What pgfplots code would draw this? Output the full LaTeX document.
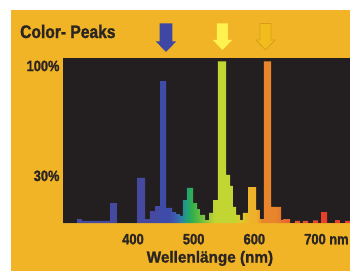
\documentclass[border=0pt]{standalone}
\usepackage{fontspec}
\usepackage{pgfplots}
\usepackage{pgfplotstable}
\pgfplotsset{compat=1.18}
\newfontfamily\condfont{Liberation Sans}[FakeStretch=0.86, BoldFeatures={FakeBold=1.4}]
\newfontfamily\labfont{Liberation Sans}[FakeStretch=0.96, BoldFeatures={FakeBold=1.4}]
\definecolor{bgor}{HTML}{F1B427}
\definecolor{plotbg}{HTML}{231F20}
\definecolor{txt}{HTML}{2A2522}
\definecolor{cv}{HTML}{4549A0}
\definecolor{cb}{HTML}{3F4BA8}
\definecolor{ca}{HTML}{3D5DB0}
\definecolor{cc}{HTML}{2E7FA8}
\definecolor{cd}{HTML}{22A07A}
\definecolor{cg}{HTML}{32B04A}
\definecolor{ce}{HTML}{6CBE40}
\definecolor{cf}{HTML}{A4CB38}
\definecolor{cyg}{HTML}{C2D633}
\definecolor{ch}{HTML}{DCCB2C}
\definecolor{cyo}{HTML}{EDB12A}
\definecolor{co}{HTML}{E9862B}
\definecolor{cor}{HTML}{E66A2E}
\definecolor{crr}{HTML}{E5512F}
\definecolor{cr}{HTML}{E63F2B}
\definecolor{arrblue}{HTML}{3E47A3}
\definecolor{arryel}{HTML}{FFF24F}
\definecolor{arrora}{HTML}{F2BC1C}
\definecolor{arroradraw}{HTML}{D99E18}
\pgfdeclarehorizontalshading{spectrum}{100bp}{color(0bp)=(cv); color(25bp)=(cv); color(41.2bp)=(cv); color(42.0bp)=(cb); color(43.5bp)=(cb); color(44.5bp)=(ca); color(45.5bp)=(cc); color(46.5bp)=(cd); color(47.5bp)=(cg); color(49bp)=(ce); color(50.5bp)=(cf); color(51.5bp)=(cyg); color(54.9bp)=(cyg); color(56bp)=(ch); color(57.5bp)=(cyo); color(58.7bp)=(cyo); color(59.6bp)=(co); color(61.9bp)=(co); color(63.7bp)=(cor); color(66.3bp)=(crr); color(70.6bp)=(cr); color(75bp)=(cr); color(100bp)=(cr)}
\pgfplotstableread{
nm pct
284.6 0
307.7 2.5
315.9 1.3
362.1 12.7
373.6 0
406.6 28.7
419.8 2.5
428.0 7.6
436.3 10.8
444.5 90.4
454.4 9.6
464.3 7.0
470.9 5.7
477.5 4.5
482.4 14.6
489.0 22.3
498.9 12.7
505.5 8.9
510.4 5.1
518.7 1.9
525.3 6.4
531.9 14.6
540.1 103
553.3 30.6
559.9 23.6
564.8 10.2
569.8 5.1
576.4 1.9
581.3 6.4
589.6 22.9
602.8 8.3
609.3 2.5
615.9 103
627.5 10.2
644.0 1.9
647.3 2.5
658.8 0
667.0 1.3
675.3 0
680.2 1.3
688.5 0
696.7 1.6
705.0 0
709.9 7.0
719.8 0
733.0 1.9
741.2 0
749.5 1.3
757.7 1.3
}\spec
\begin{document}
\begin{tikzpicture}
\path[use as bounding box] (0bp,0bp) rectangle (350bp,-271bp);
\fill[white] (0bp,0bp) rectangle (350bp,-271bp);
\fill[bgor] (11bp,-10bp) rectangle (350bp,-271bp);
\node[anchor=base west, text=txt, font=\condfont\bfseries\fontsize{18.2}{20}\selectfont, inner sep=0pt] at (20bp,-38bp) {Color- Peaks};
\begin{axis}[
  scale only axis, width=287bp, height=165.5bp,
  anchor=south west, at={(63bp,-223bp)},
  xmin=284.6, xmax=757.7, ymin=0, ymax=105.4,
  axis background/.style={fill=plotbg},
  axis line style={draw=none},
  major tick length=0pt,
  xtick={400,500,600,700}, xticklabels={400,500,600,{700\rlap{ nm}}},
  ytick={30,100}, yticklabels={30\%,100\%},
  /pgf/number format/assume math mode=true,
  ticklabel style={font=\condfont\bfseries\fontsize{15}{15}\selectfont, text=txt},
  xticklabel style={anchor=base, yshift=-21.3bp},
  yticklabel style={anchor=east},
  xlabel={Wellenlänge (nm)},
  xlabel style={at={(axis description cs:0.512,-0.2387)}, anchor=base, font=\labfont\bfseries\fontsize{16}{16}\selectfont, text=txt},
  clip=false,
]
\addplot[const plot, draw=none, shade, shading=spectrum] table[x=nm, y=pct] {\spec} \closedcycle;
\coordinate (a1) at (axis cs:454.4,127.1);
\coordinate (a2) at (axis cs:547.5,127.1);
\coordinate (a3) at (axis cs:618.4,127.1);
\end{axis}
\fill[arrblue] (a1) ++(-6.3bp,0bp) -- ++(12.6bp,0bp) -- ++(0bp,-18bp) -- ++(3.9bp,0bp) -- ++(-10.2bp,-10.5bp) -- ++(-10.2bp,10.5bp) -- ++(3.9bp,0bp) -- cycle;
\fill[arryel] (a2) ++(-5.5bp,0bp) -- ++(11bp,0bp) -- ++(0bp,-16.5bp) -- ++(4.2bp,0bp) -- ++(-9.7bp,-10bp) -- ++(-9.7bp,10bp) -- ++(4.2bp,0bp) -- cycle;
\filldraw[fill=arrora, draw=arroradraw, line width=0.8bp] (a3) ++(-5.5bp,0bp) -- ++(11bp,0bp) -- ++(0bp,-16.5bp) -- ++(4.2bp,0bp) -- ++(-9.7bp,-10bp) -- ++(-9.7bp,10bp) -- ++(4.2bp,0bp) -- cycle;
\end{tikzpicture}
\end{document}
